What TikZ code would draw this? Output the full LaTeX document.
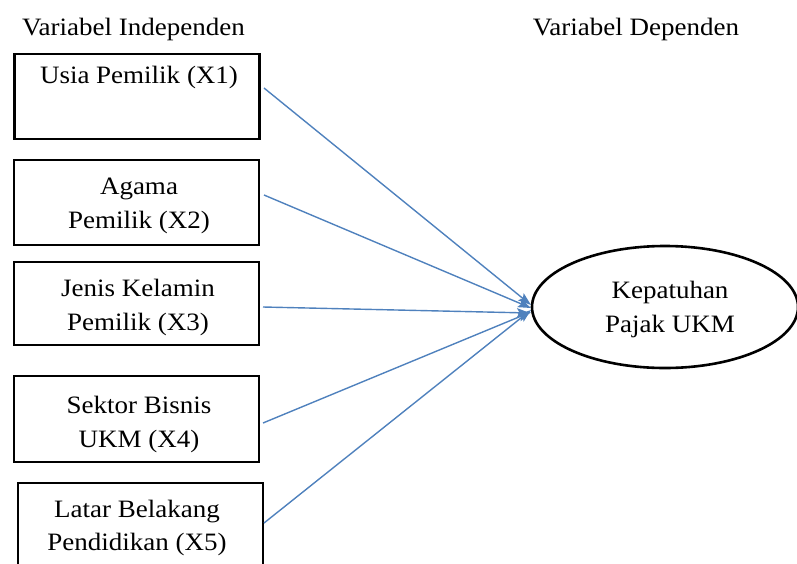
\documentclass[tikz,border=0pt]{standalone}
\usepackage{fontspec}
\setmainfont{Liberation Serif}[FakeStretch=1.08]
\usetikzlibrary{arrows.meta,shapes.geometric}
\definecolor{arrowblue}{HTML}{4F81BD}
\tikzset{
  varbox/.style={draw=black,line width=2.3pt,rectangle,inner sep=0pt,minimum width=245pt},
  boxtext/.style={align=center,font=\fontsize{25}{34}\selectfont,inner sep=0pt},
  header/.style={font=\fontsize{25}{34}\selectfont,inner sep=0pt,anchor=base},
  depnode/.style={draw=black,line width=2.6pt,ellipse,inner sep=0pt,minimum width=266pt,minimum height=122pt},
  link/.style={draw=arrowblue,line width=1.4pt,-{Stealth[length=13pt,width=9pt,inset=2.5pt]}}
}
\begin{document}
\begin{tikzpicture}[x=1pt,y=-1pt]
\useasboundingbox (0,0) rectangle (797,563);
% headers
\node[header] (hind) at (133.5,35) {Variabel Independen};
\node[header] (hdep) at (636,35) {Variabel Dependen};
% boxes
\node[varbox,minimum height=85pt] (b1) at (137,96.5) {};
\node[varbox,minimum height=85pt] (b2) at (136.5,202.5) {};
\node[varbox,minimum height=83pt] (b3) at (136.5,303.5) {};
\node[varbox,minimum height=86pt] (b4) at (136.5,419) {};
\node[varbox,minimum height=92pt] (b5) at (140.5,529) {};
% texts
\node[header] (x1) at (139,83) {Usia Pemilik (X1)};
\node[boxtext] (x2) at (139,206) {Agama\\Pemilik (X2)};
\node[boxtext] (x3) at (138,307) {Jenis Kelamin\\Pemilik (X3)};
\node[boxtext] (x4) at (139,424) {Sektor Bisnis\\UKM (X4)};
\node[boxtext,font=\fontsize{25}{33}\selectfont] (x5) at (137,528) {Latar Belakang\\Pendidikan (X5)};
% dependent
\node[depnode] (dep) at (665,307) {};
\node[boxtext] (deptext) at (670,309) {Kepatuhan\\Pajak UKM};
% connector ends
\coordinate (s1) at (264,88);
\coordinate (s2) at (264,195);
\coordinate (s3) at (263,307);
\coordinate (s4) at (263,423);
\coordinate (s5) at (264,523);
\coordinate (t1) at (531,305);
\coordinate (t2) at (531,308);
\coordinate (t3) at (530,313);
\coordinate (t4) at (531,312);
\coordinate (t5) at (531,310);
\draw[link] (s1) -- (t1);
\draw[link] (s2) -- (t2);
\draw[link] (s3) -- (t3);
\draw[link] (s4) -- (t4);
\draw[link] (s5) -- (t5);
\end{tikzpicture}
\end{document}
